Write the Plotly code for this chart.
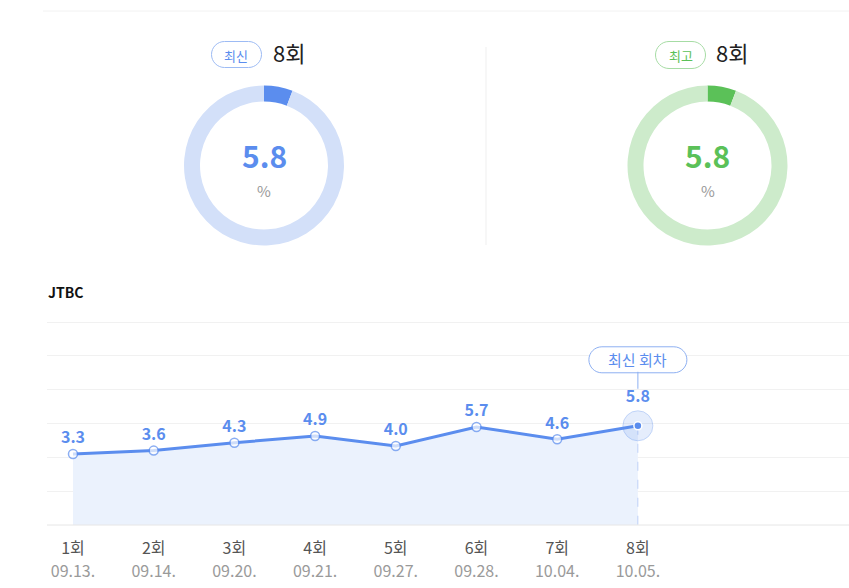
import plotly.graph_objects as go

# viewer ratings (%) per episode
episodes = [1, 2, 3, 4, 5, 6, 7, 8]
ep_labels = ["1회", "2회", "3회", "4회", "5회", "6회", "7회", "8회"]
air_dates = ["09.13.", "09.14.", "09.20.", "09.21.", "09.27.", "09.28.", "10.04.", "10.05."]
ratings = [3.3, 3.6, 4.3, 4.9, 4.0, 5.7, 4.6, 5.8]

latest_ep = "8회"
latest_rating = 5.8
best_ep = "8회"
best_rating = 5.8

W, H = 849, 588
BLUE = "#5B8DEE"
GREEN = "#5BC158"
FONT = "Noto Sans CJK KR"


def px(x):
    return x / W


def py(y):
    return 1 - y / H


def pill_path(w, h, cy=0):
    # rounded capsule centred on (0, cy), pixel units, y up
    r = h / 2
    k = 0.5523 * r
    a = w / 2 - r
    return (
        f"M{-a},{cy + r} L{a},{cy + r} "
        f"C{a + k},{cy + r} {a + r},{cy + k} {a + r},{cy} "
        f"C{a + r},{cy - k} {a + k},{cy - r} {a},{cy - r} "
        f"L{-a},{cy - r} "
        f"C{-a - k},{cy - r} {-a - r},{cy - k} {-a - r},{cy} "
        f"C{-a - r},{cy + k} {-a - k},{cy + r} {-a},{cy + r} Z"
    )


fig = go.Figure()

# donuts
donuts = [
    (184, 344, latest_rating, BLUE, "#D3E0F9"),
    (627.5, 787.5, best_rating, GREEN, "#CDEBCB"),
]
for x0, x1, val, dark, light in donuts:
    fig.add_trace(
        go.Pie(
            values=[val, 100 - val],
            marker=dict(colors=[dark, light], line=dict(width=0)),
            hole=0.8,
            sort=False,
            direction="clockwise",
            rotation=0,
            textinfo="none",
            hoverinfo="skip",
            showlegend=False,
            domain=dict(x=[px(x0), px(x1)], y=[py(245.5), py(85.5)]),
        )
    )

# line chart: fill down to axis bottom
fig.add_trace(
    go.Scatter(
        x=episodes,
        y=[-3] * len(episodes),
        mode="lines",
        line=dict(width=0, color="rgba(0,0,0,0)"),
        hoverinfo="skip",
        showlegend=False,
    )
)
fig.add_trace(
    go.Scatter(
        x=episodes,
        y=ratings,
        mode="lines",
        line=dict(color=BLUE, width=3),
        fill="tonexty",
        fillcolor="#EBF2FD",
        showlegend=False,
    )
)
fig.add_trace(
    go.Scatter(
        x=[episodes[-1], episodes[-1]],
        y=[ratings[-1], -3],
        mode="lines",
        line=dict(color="rgba(91,141,238,0.35)", width=1, dash="dash"),
        hoverinfo="skip",
        showlegend=False,
    )
)
n = len(episodes)
fig.add_trace(
    go.Scatter(
        x=episodes,
        y=ratings,
        mode="markers+text",
        text=[f"{v:.1f}" for v in ratings],
        textposition="top center",
        textfont=dict(family=FONT, size=16, color=BLUE, weight="bold"),
        marker=dict(
            size=[9] * (n - 1) + [30],
            color=["white"] * (n - 1) + ["rgba(91,141,238,0.22)"],
            line=dict(
                color=[BLUE] * (n - 1) + ["rgba(91,141,238,0.45)"],
                width=[1.5] * (n - 1) + [1],
            ),
        ),
        showlegend=False,
    )
)
fig.add_trace(
    go.Scatter(
        x=[episodes[-1]],
        y=[ratings[-1]],
        mode="markers",
        marker=dict(size=8, color=BLUE, line=dict(color="white", width=1.5)),
        hoverinfo="skip",
        showlegend=False,
    )
)
# invisible trace so the date axis is drawn
fig.add_trace(
    go.Scatter(
        x=episodes,
        y=ratings,
        xaxis="x2",
        mode="markers",
        marker=dict(opacity=0),
        hoverinfo="skip",
        showlegend=False,
    )
)

xrange = [0.678, 10.616]
common_x = dict(
    domain=[px(47), 1],
    range=xrange,
    tickvals=episodes,
    showgrid=False,
    zeroline=False,
    showline=False,
    ticks="",
)
fig.update_layout(
    xaxis=dict(
        **common_x,
        ticktext=ep_labels,
        tickfont=dict(family=FONT, size=16, color="#555"),
        ticklabelstandoff=12,
    ),
    xaxis2=dict(
        **common_x,
        overlaying="x",
        anchor="y",
        side="bottom",
        ticktext=air_dates,
        tickfont=dict(family=FONT, size=16, color="#9a9a9a"),
        ticklabelstandoff=35,
    ),
)
fig.update_yaxes(
    domain=[py(525), py(317)],
    range=[-3, 15.45],
    tick0=0,
    dtick=3,
    showticklabels=False,
    gridcolor="#F1F1F1",
    gridwidth=1,
    zeroline=False,
    showline=False,
    ticks="",
)

shapes = [
    # top separator
    dict(type="line", xref="paper", yref="paper", x0=px(43), x1=1, y0=py(11), y1=py(11),
         line=dict(color="#F2F2F2", width=1)),
    # vertical divider
    dict(type="line", xref="paper", yref="paper", x0=px(486), x1=px(486), y0=py(47), y1=py(245),
         line=dict(color="#EFEFEF", width=1)),
    # axis baseline
    dict(type="line", xref="paper", yref="paper", x0=px(47), x1=1, y0=py(525), y1=py(525),
         line=dict(color="#E6E6E6", width=1)),
    # pills at top
    dict(type="path", xref="paper", yref="paper", xsizemode="pixel", ysizemode="pixel",
         xanchor=px(236.5), yanchor=py(54.5), path=pill_path(50, 26),
         line=dict(color="#9DBBF4", width=1), fillcolor="white"),
    dict(type="path", xref="paper", yref="paper", xsizemode="pixel", ysizemode="pixel",
         xanchor=px(680.5), yanchor=py(55), path=pill_path(50, 27),
         line=dict(color="#A6DCA4", width=1), fillcolor="white"),
    # latest-episode callout pill, 66 px above the last point
    dict(type="path", xref="x", yref="y", xsizemode="pixel", ysizemode="pixel",
         xanchor=episodes[-1], yanchor=ratings[-1], path=pill_path(98, 26, cy=66),
         line=dict(color="#8EB0F2", width=1), fillcolor="white", layer="above"),
]

annotations = [
    dict(x=px(236.5), y=py(55), text="최신", font=dict(family=FONT, size=13, color=BLUE)),
    dict(x=px(289), y=py(52), text=latest_ep, font=dict(family=FONT, size=22, color="#222")),
    dict(x=px(680.5), y=py(55), text="최고", font=dict(family=FONT, size=13, color=GREEN)),
    dict(x=px(732), y=py(52), text=best_ep, font=dict(family=FONT, size=22, color="#222")),
    dict(x=px(264), y=py(155), text=f"{latest_rating:.1f}",
         font=dict(family=FONT, size=30, color=BLUE, weight="bold")),
    dict(x=px(264), y=py(190), text="%", font=dict(family=FONT, size=15, color="#999")),
    dict(x=px(707.5), y=py(155), text=f"{best_rating:.1f}",
         font=dict(family=FONT, size=30, color=GREEN, weight="bold")),
    dict(x=px(707.5), y=py(190), text="%", font=dict(family=FONT, size=15, color="#999")),
    dict(x=px(46), y=py(292), text="JTBC", xanchor="left",
         font=dict(family=FONT, size=14, color="#111", weight="bold")),
]
for a_ in annotations:
    a_.setdefault("xref", "paper")
    a_.setdefault("yref", "paper")
    a_.setdefault("showarrow", False)
    a_.setdefault("xanchor", "center")
    a_.setdefault("yanchor", "middle")

annotations.append(
    dict(
        x=episodes[-1], y=ratings[-1], xref="x", yref="y",
        text="최신 회차", font=dict(family=FONT, size=15, color=BLUE),
        showarrow=True, ax=0, ay=-66, arrowhead=0, arrowwidth=1,
        arrowcolor="#8EB0F2", standoff=37,
    )
)

fig.update_layout(
    width=W,
    height=H,
    margin=dict(l=0, r=0, t=0, b=0),
    paper_bgcolor="white",
    plot_bgcolor="white",
    font=dict(family=FONT),
    shapes=shapes,
    annotations=annotations,
    showlegend=False,
)

fig.write_html(
    "out.html",
    config={"displayModeBar": False},
    post_script="document.body.style.margin='0';",
)
